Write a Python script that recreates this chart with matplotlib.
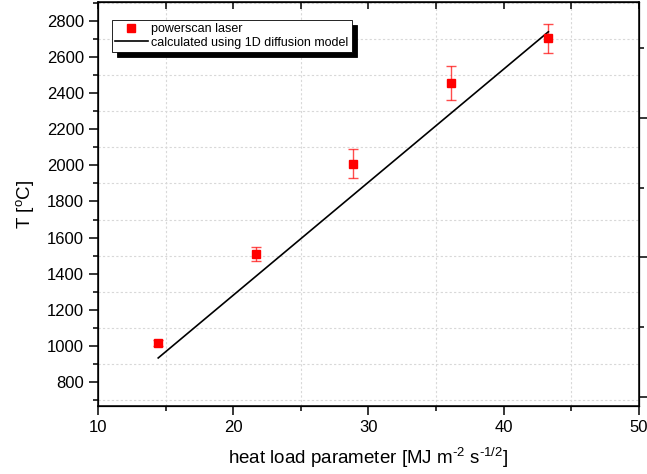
import matplotlib.pyplot as plt
from matplotlib.ticker import MultipleLocator, NullFormatter

plt.rcParams['font.family'] = ['Liberation Sans', 'DejaVu Sans']
plt.rcParams['mathtext.fontset'] = 'custom'
plt.rcParams['mathtext.rm'] = 'Liberation Sans'
plt.rcParams['mathtext.it'] = 'Liberation Sans'

# measured data (powerscan laser)
heat_load = [14.45, 21.65, 28.85, 36.1, 43.3]
temp = [1015, 1510, 2010, 2455, 2705]
temp_err = [15, 40, 80, 95, 80]

# 1D diffusion model
model_x = [14.45, 21.65, 28.85, 36.1, 43.3]
model_T = [933, 1384, 1835, 2289, 2740]

fig = plt.figure(figsize=(6.47, 4.74), dpi=100)
ax = fig.add_axes([0.1515, 0.1435, 0.8361, 0.8523])

ax.errorbar(heat_load, temp, yerr=temp_err, fmt='none', ecolor='red', alpha=0.7,
            elinewidth=1, capsize=3.6, capthick=1, zorder=3)
ax.plot(heat_load, temp, 's', color='red', markersize=6, zorder=4, label='powerscan laser')
ax.plot(model_x, model_T, '-', color='black', linewidth=1.2, zorder=3,
        label='calculated using 1D diffusion model')

ax.set_xlim(10, 50)
ax.set_ylim(667, 2905)
ax.xaxis.set_major_locator(MultipleLocator(10))
ax.xaxis.set_minor_locator(MultipleLocator(5))
ax.yaxis.set_major_locator(MultipleLocator(200))
ax.yaxis.set_minor_locator(MultipleLocator(100))
ax.grid(which='minor', linestyle=(0, (2, 2)), color='#d8d8d8', linewidth=0.8)
ax.grid(which='major', visible=False)
ax.tick_params(which='major', direction='out', length=6.5, width=1.1, labelsize=12)
ax.tick_params(which='minor', direction='out', length=3.5, width=1.1)
for s in ax.spines.values():
    s.set_linewidth(1.1)

ax.set_xlabel(r'heat load parameter [MJ m$^{\text{-2}}$ s$^{\text{-1/2}}$]', fontsize=13.5, labelpad=8)
ax.set_ylabel(r'T [$^{\text{o}}$C]', fontsize=13.5, labelpad=8)

# top axis: inward ticks, no labels
top = ax.twiny()
top.set_xlim(10, 50)
top.xaxis.set_major_locator(MultipleLocator(5))
top.xaxis.set_major_formatter(NullFormatter())
top.tick_params(direction='in', length=5, width=1.1)

# right axis: own scale, outward ticks, no labels
right = ax.twinx()
right.set_ylim(-9 / 140, 396 / 140)
right.yaxis.set_major_locator(MultipleLocator(1))
right.yaxis.set_minor_locator(MultipleLocator(0.5))
right.yaxis.set_major_formatter(NullFormatter())
right.tick_params(which='major', direction='out', length=6.5, width=1.1)
right.tick_params(which='minor', direction='out', length=3.5, width=1.1)

leg = ax.legend(loc='upper left', bbox_to_anchor=(0.026, 0.955), fontsize=9,
                fancybox=False, shadow={'color': 'black', 'alpha': 1, 'ox': 3.5, 'oy': -3.5},
                framealpha=1, edgecolor='black', borderpad=0.25, labelspacing=0.1,
                handlelength=2.6, handletextpad=0.3, borderaxespad=0)
leg.get_frame().set_linewidth(0.6)
leg.set_zorder(10)

fig.savefig('out.png', dpi=100)
